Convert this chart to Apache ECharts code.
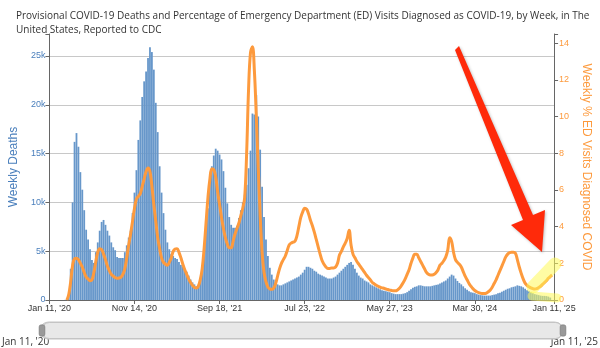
<!DOCTYPE html>
<html><head><meta charset="utf-8">
<script src="https://cdn.jsdelivr.net/npm/echarts@6/dist/echarts.min.js"></script>
<style>html,body{margin:0;padding:0;background:#fff}#c{width:600px;height:348px}</style>
</head><body><div id="c"></div>
<script>
// Week 0 = week of Jan 11, 2020; one entry per week
const startDate = Date.UTC(2020, 0, 11);
const rangeEndDay = 1827;      // Jan 11, 2025
const tickIntervalDays = 308;  // label spacing (44 weeks)
const months = ['Jan','Feb','Mar','Apr','May','Jun','Jul','Aug','Sep','Oct','Nov','Dec'];

const deaths = [
0,0,0,0,0,0,0,0,10,60,
600,3200,10000,16200,17100,15700,13100,11300,9200,7200,
6200,5200,4100,3800,4900,5900,7100,8000,8200,7700,
7100,6600,5900,5400,5100,4400,4300,4300,4300,4900,
5600,6400,7100,8900,11000,13300,16400,18400,20800,22400,
23400,24800,25900,25400,23600,20200,17200,13700,11000,8900,
7200,5900,5200,4700,4500,4300,4200,3900,3600,3400,
3200,2900,2500,2100,1800,1600,1400,1500,2000,3000,
4800,7200,9400,12000,13700,14800,15500,15300,14900,14400,
13200,11500,9900,8500,7700,7400,7400,7600,8400,9200,
10000,10800,11800,13500,15300,19100,19000,21000,18800,15400,
11600,8500,6200,4500,3300,2600,2100,1800,1600,1500,
1500,1600,1700,1800,1900,2000,2100,2200,2300,2400,
2600,2800,3100,3400,3400,3300,3200,3000,2900,2700,
2600,2500,2400,2300,2200,2200,2200,2300,2400,2600,
2800,3000,3200,3400,3600,3800,3900,3600,3200,2800,
2500,2300,2200,2000,1900,1800,1600,1500,1400,1300,
1200,1100,1000,950,900,850,800,700,650,600,
600,600,600,650,700,800,950,1100,1250,1350,
1400,1500,1500,1450,1400,1400,1400,1400,1450,1500,
1550,1600,1700,1800,1900,2000,2200,2400,2600,2500,
2200,1950,1750,1600,1400,1200,1050,900,800,750,
700,600,550,500,470,450,450,450,450,500,
550,600,700,750,850,950,1050,1150,1200,1300,
1350,1400,1500,1450,1400,1300,1150,1000,900,800,
700,600,550,500,450,420,420,400,350,250
];

const edPct = [
null,null,null,null,null,null,null,null,null,0.0,
0.3,1.0,1.9,2.25,2.27,2.2,2.0,1.8,1.5,1.25,
1.15,1.05,1.1,1.5,2.1,2.6,2.8,2.75,2.5,2.2,
1.85,1.6,1.4,1.3,1.22,1.18,1.2,1.25,1.4,1.7,
2.3,3.0,3.6,4.3,5.0,5.5,5.65,5.8,6.2,6.6,
7.0,7.2,7.0,6.2,5.2,4.3,3.4,2.8,2.3,2.05,
1.95,1.9,2.05,2.3,2.65,2.78,2.8,2.6,2.3,1.95,
1.65,1.4,1.15,0.95,0.8,0.68,0.65,0.75,1.1,1.7,
2.8,4.2,5.6,6.6,7.15,7.1,6.7,5.9,5.2,4.5,
3.9,3.4,3.05,2.85,2.85,3.2,3.6,3.9,4.2,4.6,
5.0,5.6,8.0,11.5,13.5,13.8,12.5,10.0,7.2,4.6,
2.6,1.5,1.0,0.7,0.6,0.58,0.65,0.9,1.3,1.7,
2.0,2.2,2.4,2.7,3.0,3.1,3.15,3.2,3.5,4.0,
4.5,4.8,5.0,4.95,4.7,4.35,4.05,3.7,3.3,2.9,
2.5,2.15,1.95,1.8,1.72,1.72,1.75,1.75,1.8,2.0,
2.45,2.65,2.9,3.1,3.35,3.8,3.0,2.5,2.3,2.1,
1.95,1.8,1.65,1.5,1.35,1.22,1.1,0.95,0.88,0.8,
0.75,0.7,0.66,0.64,0.6,0.57,0.54,0.52,0.5,0.5,
0.55,0.64,0.78,0.95,1.15,1.4,1.65,2.0,2.3,2.5,
2.5,2.3,2.1,1.9,1.7,1.5,1.4,1.36,1.36,1.4,
1.5,1.65,1.9,2.0,2.15,2.35,2.72,3.4,3.2,2.6,
2.2,2.05,1.95,1.8,1.55,1.3,1.1,0.9,0.75,0.62,
0.52,0.45,0.4,0.37,0.35,0.35,0.38,0.45,0.55,0.7,
0.9,1.1,1.35,1.6,1.85,2.1,2.35,2.5,2.58,2.6,
2.6,2.55,2.2,1.8,1.45,1.15,0.92,0.8,0.72,0.66,
0.62,0.6,0.62,0.68,0.75,0.85,0.95,1.05,1.18,1.28,
1.36
];

function fmtDay(d) {
  const dt = new Date(startDate + Math.round(d) * 86400000);
  return months[dt.getUTCMonth()] + ' ' + dt.getUTCDate() + ", '" + String(dt.getUTCFullYear()).slice(2);
}

const barData = deaths.map((v, i) => [i * 7, v]);
const lineData = [];
edPct.forEach((v, i) => { if (v !== null) lineData.push([i * 7, v]); });

const BLUE = '#4a7fbc';
const ORANGE = '#fd9a3d';
const AXIS = '#666';
const TXT = '#333';

const chart = echarts.init(document.getElementById('c'), null, {renderer: 'canvas'});
chart.setOption({
  animation: false,
  backgroundColor: '#fff',
  title: {
    text: 'Provisional COVID-19 Deaths and Percentage of Emergency Department (ED) Visits Diagnosed as COVID-19, by Week, in The\nUnited States, Reported to CDC',
    left: 11, top: 4,
    textStyle: { fontFamily: 'Open Sans', fontSize: 10, fontWeight: 'normal', color: TXT, lineHeight: 14 }
  },
  grid: { left: 40, right: 42, top: 34, bottom: 48, containLabel: false },
  xAxis: {
    type: 'value', min: 0, max: rangeEndDay, interval: tickIntervalDays,
    axisLine: { lineStyle: { color: AXIS } },
    axisTick: { show: true, length: 4, lineStyle: { color: AXIS } },
    splitLine: { show: false },
    axisLabel: { formatter: v => fmtDay(v), fontFamily: 'Liberation Sans', fontSize: 9, color: TXT, margin: 4, showMaxLabel: true, showMinLabel: true }
  },
  yAxis: [{
    type: 'value', min: 0, max: 27250, interval: 5000, position: 'left',
    name: 'Weekly Deaths', nameLocation: 'middle', nameGap: 23,
    nameTextStyle: { color: BLUE, fontFamily: 'Liberation Sans', fontSize: 12 },
    axisLine: { show: true, lineStyle: { color: AXIS } },
    axisTick: { show: true, length: 4, lineStyle: { color: AXIS } },
    axisLabel: { color: BLUE, fontFamily: 'Liberation Sans', fontSize: 9, margin: 4,
      formatter: v => v === 0 ? '0' : (v % 5000 === 0 ? (v / 1000) + 'k' : '') },
    splitLine: { show: true, showMaxLine: false, lineStyle: { color: '#c8c8c8', width: 1 } }
  }, {
    type: 'value', min: 0, max: 14.5, interval: 2, position: 'right',
    name: 'Weekly % ED Visits Diagnosed COVID', nameLocation: 'middle', nameGap: 20, nameRotate: -90,
    nameTextStyle: { color: ORANGE, fontFamily: 'Liberation Sans', fontSize: 12 },
    axisLine: { show: true, lineStyle: { color: AXIS } },
    axisTick: { show: true, length: 4, lineStyle: { color: AXIS } },
    axisLabel: { color: ORANGE, fontFamily: 'Liberation Sans', fontSize: 9, margin: 5,
      formatter: v => (v % 2 === 0 ? String(v) : '') },
    splitLine: { show: false }
  }],
  dataZoom: [{
    type: 'slider', xAxisIndex: 0, filterMode: 'none', start: 0, end: 100,
    left: 40, right: 37, top: 322, height: 17,
    backgroundColor: 'rgba(0,0,0,0)', fillerColor: 'rgba(0,0,0,0)',
    borderColor: '#c4c4c4', borderRadius: 8,
    showDataShadow: false, showDetail: false, brushSelect: false,
    moveHandleSize: 0,
    handleIcon: 'path://M2,0h2a2,2,0,0,1,2,2v8a2,2,0,0,1-2,2h-2a2,2,0,0,1-2-2v-8a2,2,0,0,1,2-2Z',
    handleSize: '65%',
    handleStyle: { color: '#999', borderColor: '#888' },
    emphasis: { handleStyle: { color: '#888' } }
  }],
  graphic: [
    { type: 'rect', z: 1, silent: true, shape: { x: 40, y: 322, width: 523, height: 17, r: 8.5 },
      style: { fill: '#e8e8e8', stroke: '#c4c4c4', lineWidth: 1 } },
    { type: 'text', left: 2, top: 337, silent: true,
      style: { text: fmtDay(0), fill: TXT, font: '10px "Open Sans"' } },
    { type: 'text', right: 2, top: 337, silent: true,
      style: { text: fmtDay(rangeEndDay), fill: TXT, font: '10px "Open Sans"' } },
    { type: 'polyline', z: 50, silent: true, shape: { points: [[533, 287], [555, 264]] },
      style: { stroke: 'rgba(255,250,90,0.55)', lineWidth: 13, lineCap: 'round', fill: null } },
    { type: 'polyline', z: 50, silent: true, shape: { points: [[532, 296], [557, 298]] },
      style: { stroke: 'rgba(255,250,90,0.55)', lineWidth: 9, lineCap: 'round', fill: null } },
    { type: 'polygon', z: 60, silent: true,
      shape: { points: [[455, 50], [459, 46], [533, 215], [545, 210], [542, 252], [511, 225], [523, 220]] },
      style: { fill: '#ff2a0a', shadowBlur: 3, shadowColor: 'rgba(0,0,0,0.25)', shadowOffsetX: 1, shadowOffsetY: 1 } }
  ],
  series: [{
    type: 'bar', name: 'Weekly Deaths', yAxisIndex: 0, data: barData,
    barWidth: 1.8, itemStyle: { color: '#6797ca' }, z: 2
  }, {
    type: 'line', name: 'Weekly % ED Visits', yAxisIndex: 1, data: lineData,
    smooth: 0.4, showSymbol: false, symbol: 'none',
    lineStyle: { color: ORANGE, width: 3 }, z: 3
  }]
});
</script></body></html>
